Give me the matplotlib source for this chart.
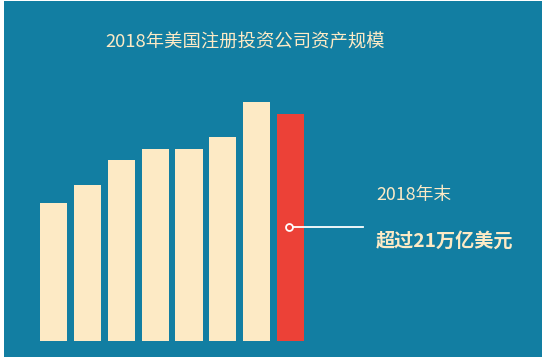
import matplotlib.pyplot as plt
from matplotlib.patches import Rectangle

plt.rcParams['font.family'] = ['Noto Sans CJK SC', 'DejaVu Sans']

# 美国注册投资公司资产(万亿美元), 2011-2018
years = ['2011', '2012', '2013', '2014', '2015', '2016', '2017', '2018']
assets = [13.0, 14.7, 17.0, 18.1, 18.1, 19.2, 22.5, 21.4]

TEAL = '#127ea2'
CREAM = '#fdeac5'
RED = '#ec4137'

W, H = 550, 361
fig = plt.figure(figsize=(W / 100, H / 100), dpi=100)
fig.patch.set_facecolor('white')

# teal panel
fig.patches.append(Rectangle((4 / W, (H - 357) / H), 538 / W, 356 / H,
                             transform=fig.transFigure, facecolor=TEAL,
                             edgecolor='none', zorder=-1))

# axes in pixel units
left, bottom, width, height = 36.9, 361 - 340.7, 270.4, 250.7
ax = fig.add_axes([left / W, bottom / H, width / W, height / H])
ax.set_facecolor('none')

colores = [CREAM] * (len(years) - 1) + [RED]
ax.bar(range(len(years)), assets, width=0.81, color=colores, zorder=2)
ax.set_xlim(-0.5, 7.5)
ax.set_ylim(0, 23.65)
ax.axis('off')

# annotation line from the red bar
y_mark = 10.7
ax.plot([6.95, 9.14], [y_mark, y_mark], color='white', lw=1.3,
        clip_on=False, zorder=3)
ax.plot([6.95], [y_mark], marker='o', ms=5, mfc=RED, mec='white',
        mew=1.3, clip_on=False, zorder=4)

fig.text(245.5 / W, (H - 42) / H, '2018年美国注册投资公司资产规模',
         ha='center', va='center', fontsize=13.2, color=CREAM)
fig.text(376 / W, (H - 195) / H, '2018年末', ha='left', va='center',
         fontsize=12.8, color=CREAM)
fig.text(376 / W, (H - 241.5) / H, '超过21万亿美元', ha='left', va='center',
         fontsize=13.8, fontweight='bold', color=CREAM)

fig.savefig('out.png', dpi=100, facecolor='white')
